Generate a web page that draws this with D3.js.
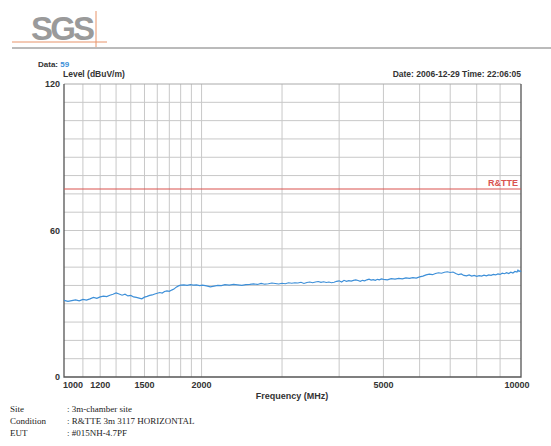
<!DOCTYPE html>
<html>
<head>
<meta charset="utf-8">
<script src="https://cdn.jsdelivr.net/npm/d3@7"></script>
<style>
  body { margin: 0; background: #fff; }
  text { font-family: Arial, "Liberation Sans", sans-serif; }
  text.serif { font-family: "Liberation Serif", "DejaVu Serif", serif; }
</style>
</head>
<body>
<div id="container"></div>
<script>
const width = 551;
const height = 446;
const margin = { top: 84, bottom: 69, left: 64, right: 30 };

// data
const freqs = [1000, 1020, 1040, 1060, 1080, 1100, 1120, 1140, 1160, 1180, 1200, 1220, 1240, 1260, 1280, 1300, 1320, 1340, 1360, 1380,
  1400, 1420, 1440, 1460, 1480, 1500, 1520, 1540, 1560, 1580, 1600, 1620, 1640, 1660, 1680, 1700, 1720, 1740, 1760, 1780,
  1800, 1830, 1860, 1890, 1920, 1950, 1980, 2010, 2050, 2090, 2130, 2170, 2210, 2250, 2300, 2350, 2400, 2450, 2500, 2550,
  2600, 2650, 2700, 2750, 2800, 2850, 2900, 2950, 3000, 3050, 3100, 3150, 3200, 3250, 3300, 3350, 3400, 3450, 3500, 3550,
  3600, 3650, 3700, 3750, 3800, 3850, 3900, 3950, 4000, 4050, 4100, 4150, 4200, 4250, 4300, 4350, 4400, 4450, 4500, 4550,
  4600, 4650, 4700, 4750, 4800, 4850, 4900, 4950, 5000, 5100, 5200, 5300, 5400, 5500, 5600, 5700, 5800, 5900, 6000, 6100,
  6200, 6300, 6400, 6500, 6600, 6700, 6800, 6900, 7000, 7100, 7200, 7300, 7400, 7500, 7600, 7700, 7800, 7900, 8000, 8100,
  8200, 8300, 8400, 8500, 8600, 8700, 8800, 8900, 9000, 9100, 9200, 9300, 9400, 9500, 9600, 9700, 9800, 9850, 9900, 9950, 10000];
const levels = [31.4, 31.0, 31.3, 31.6, 31.2, 31.8, 31.5, 32.0, 32.6, 32.2, 32.8, 33.1, 32.9, 33.5, 33.9, 34.4, 34.0, 33.5, 33.9, 33.2,
  33.4, 32.8, 32.6, 32.3, 32.0, 32.7, 33.0, 33.4, 33.6, 34.0, 34.3, 34.6, 34.4, 35.0, 35.3, 35.1, 35.6, 36.0, 36.8, 37.3,
  37.6, 37.7, 37.5, 37.8, 37.6, 37.7, 37.4, 37.6, 37.3, 36.9, 37.2, 37.5, 37.4, 37.8, 37.6, 37.9, 37.7, 37.5, 37.8, 37.9,
  38.1, 37.9, 38.3, 38.0, 38.2, 38.5, 38.3, 38.1, 38.4, 38.2, 38.6, 38.4, 38.6, 38.5, 38.8, 38.3, 38.7, 38.9, 38.6, 38.9,
  39.1, 38.8, 39.0, 38.7, 38.9, 38.6, 38.8, 39.2, 39.4, 38.9, 39.6, 39.2, 39.5, 39.3, 39.6, 39.8, 39.5, 39.2, 39.6, 39.4,
  39.8, 40.1, 39.7, 39.9, 39.6, 40.0, 39.8, 40.2, 40.0, 39.8, 40.3, 40.1, 40.4, 40.2, 40.6, 40.4, 40.7, 40.5, 41.0, 41.3,
  41.8, 42.1, 41.9, 42.4, 42.7, 42.5, 42.9, 43.1, 42.8, 43.0, 42.4, 41.9, 42.2, 41.6, 41.4, 41.8, 41.3, 41.6, 41.2, 41.5,
  41.3, 41.7, 41.4, 41.8, 41.6, 42.0, 41.8, 42.2, 42.0, 42.5, 42.3, 42.7, 42.4, 42.9, 42.6, 43.2, 43.0, 43.8, 43.2, 43.5, 43.1];
const limitLevel = 77;
const limitName = "R&TTE";

const xGrid = [1100, 1200, 1300, 1400, 1500, 1600, 1700, 1800, 1900, 2000, 3000, 4000, 5000, 6000, 7000, 8000, 9000];
const xLabels = [1000, 1200, 1500, 2000, 5000, 10000];
const yGrid = [7.5, 15, 22.5, 30, 37.5, 45, 52.5, 60, 67.5, 75, 82.5, 90, 97.5, 105, 112.5];
const yLabels = [0, 60, 120];

const info = [
  ["Site", ": 3m-chamber site"],
  ["Condition", ": R&TTE 3m 3117 HORIZONTAL"],
  ["EUT", ": #015NH-4.7PF"]
];

const svg = d3.select("#container")
    .append('svg')
    .attr('width', width)
    .attr('height', height);

// header logo
svg.append('text')
    .attr('x', 31).attr('y', 40)
    .attr('font-size', 33).attr('font-weight', 'bold')
    .attr('fill', '#9a9a9a')
    .attr('textLength', 64)
    .text('SGS');
svg.append('line').attr('x1', 12).attr('x2', 107).attr('y1', 42).attr('y2', 42)
    .attr('stroke', '#e8946a').attr('stroke-width', 1);
svg.append('line').attr('x1', 96).attr('x2', 96).attr('y1', 11).attr('y2', 47)
    .attr('stroke', '#e8946a').attr('stroke-width', 1);
svg.append('line').attr('x1', 12).attr('x2', width).attr('y1', 48).attr('y2', 48)
    .attr('stroke', '#777').attr('stroke-width', 1);

const x = d3.scaleLog()
    .domain([1000, 10000])
    .range([margin.left, width - margin.right]);
const y = d3.scaleLinear()
    .domain([0, 120])
    .range([height - margin.bottom, margin.top]);

// grid
svg.append('g')
    .selectAll('line')
    .data(xGrid)
    .join('line')
    .attr('x1', d => x(d)).attr('x2', d => x(d))
    .attr('y1', y(0)).attr('y2', y(120))
    .attr('stroke', '#c8c8c8');
svg.append('g')
    .selectAll('line')
    .data(yGrid)
    .join('line')
    .attr('x1', x(1000)).attr('x2', x(10000))
    .attr('y1', d => y(d)).attr('y2', d => y(d))
    .attr('stroke', '#c8c8c8');

// frame
svg.append('line').attr('x1', x(1000)).attr('x2', x(10000)).attr('y1', y(120)).attr('y2', y(120))
    .attr('stroke', '#aaa');
svg.append('path')
    .attr('d', `M${x(1000)},${y(120)}V${y(0)}H${x(10000)}V${y(120)}`)
    .attr('fill', 'none')
    .attr('stroke', '#555')
    .attr('stroke-width', 1.3);

// limit line
svg.append('line')
    .attr('x1', x(1000)).attr('x2', x(10000))
    .attr('y1', y(limitLevel)).attr('y2', y(limitLevel))
    .attr('stroke', '#d9534f').attr('stroke-width', 1.2);
svg.append('text')
    .attr('x', x(10000) - 3).attr('y', y(limitLevel) - 3)
    .attr('text-anchor', 'end')
    .attr('font-size', 9).attr('font-weight', 'bold')
    .attr('fill', '#d9534f')
    .text(limitName);

// trace
const line = d3.line()
    .x((d, i) => x(freqs[i]))
    .y(d => y(d));
svg.append('path')
    .datum(levels)
    .attr('d', line)
    .attr('fill', 'none')
    .attr('stroke', '#3d8fd8')
    .attr('stroke-width', 1.2);

// tick labels
svg.append('g')
    .selectAll('text')
    .data(xLabels)
    .join('text')
    .attr('x', d => d === 1000 ? x(d) + 9 : (d === 10000 ? x(d) - 4 : x(d)))
    .attr('y', y(0) + 11)
    .attr('text-anchor', 'middle')
    .attr('font-size', 9).attr('font-weight', 'bold')
    .attr('fill', '#333')
    .text(d => d);
svg.append('g')
    .selectAll('text')
    .data(yLabels)
    .join('text')
    .attr('x', x(1000) - 4)
    .attr('y', d => y(d) + 3)
    .attr('text-anchor', 'end')
    .attr('font-size', 9).attr('font-weight', 'bold')
    .attr('fill', '#333')
    .text(d => d);

// titles
const dataText = svg.append('text')
    .attr('x', 38).attr('y', 67)
    .attr('font-size', 8).attr('font-weight', 'bold')
    .attr('fill', '#333');
dataText.append('tspan').text('Data: ');
dataText.append('tspan').attr('fill', '#3d8fd8').text('59');

svg.append('text')
    .attr('x', 63).attr('y', 77)
    .attr('font-size', 8.5).attr('font-weight', 'bold')
    .attr('fill', '#333')
    .text('Level (dBuV/m)');

svg.append('text')
    .attr('x', x(10000)).attr('y', 77)
    .attr('text-anchor', 'end')
    .attr('font-size', 8.5).attr('font-weight', 'bold')
    .attr('fill', '#333')
    .text('Date: 2006-12-29  Time: 22:06:05');

svg.append('text')
    .attr('x', 292).attr('y', 399)
    .attr('text-anchor', 'middle')
    .attr('font-size', 9).attr('font-weight', 'bold')
    .attr('fill', '#333')
    .text('Frequency (MHz)');

// footer info
const rows = svg.append('g')
    .selectAll('g')
    .data(info)
    .join('g')
    .attr('transform', (d, i) => `translate(0,${412 + i * 12})`);
rows.append('text')
    .attr('class', 'serif')
    .attr('x', 10)
    .attr('font-size', 9).attr('fill', '#222')
    .text(d => d[0]);
rows.append('text')
    .attr('class', 'serif')
    .attr('x', 67)
    .attr('font-size', 9).attr('fill', '#222')
    .text(d => d[1]);
</script>
</body>
</html>
